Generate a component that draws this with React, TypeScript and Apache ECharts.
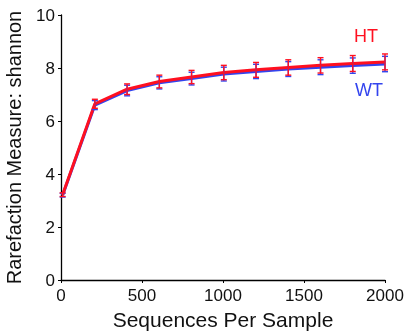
import React, { useEffect, useRef } from "react";
import * as echarts from "echarts";

const depths = [10, 209, 408, 607, 806, 1005, 1204, 1403, 1602, 1801, 2000];
const htMean = [3.22, 6.65, 7.2, 7.49, 7.66, 7.83, 7.93, 8.02, 8.1, 8.17, 8.23];
const htErr = [0.07, 0.17, 0.2, 0.24, 0.25, 0.27, 0.28, 0.29, 0.29, 0.3, 0.3];
const wtMean = [3.2, 6.6, 7.15, 7.44, 7.6, 7.77, 7.87, 7.96, 8.03, 8.09, 8.15];
const wtErr = [0.07, 0.17, 0.2, 0.23, 0.24, 0.26, 0.27, 0.28, 0.28, 0.29, 0.29];
const xTicks = [0, 500, 1000, 1500, 2000];
const yTicks = [0, 2, 4, 6, 8, 10];

const RED = "#ff1020";
const BLUE = "#3344ee";

function errSeries(name: string, mean: number[], err: number[], color: string) {
  return {
    type: "custom",
    name,
    z: name === "HT" ? 4 : 3,
    data: depths.map((d, i) => [d, mean[i] - err[i], mean[i] + err[i]]),
    renderItem: (_p: any, api: any) => {
      const x = api.value(0);
      const lo = api.coord([x, api.value(1)]);
      const hi = api.coord([x, api.value(2)]);
      const w = 3;
      const style = { stroke: color, lineWidth: 1.4 };
      return {
        type: "group",
        children: [
          { type: "line", shape: { x1: lo[0], y1: lo[1], x2: hi[0], y2: hi[1] }, style },
          { type: "line", shape: { x1: lo[0] - w, y1: lo[1], x2: lo[0] + w, y2: lo[1] }, style },
          { type: "line", shape: { x1: hi[0] - w, y1: hi[1], x2: hi[0] + w, y2: hi[1] }, style },
        ],
      };
    },
  };
}

export default function App() {
  const ref = useRef<HTMLDivElement>(null);
  useEffect(() => {
    if (!ref.current) return;
    const chart = echarts.init(ref.current, null, { renderer: "svg" });
    const font = "'Liberation Sans', Arial, sans-serif";
    chart.setOption({
      animation: false,
      textStyle: { fontFamily: font },
      grid: { left: 61, right: 24, top: 15, bottom: 53, containLabel: false, outerBoundsMode: "none" },
      xAxis: {
        type: "value",
        min: 0,
        max: 2000,
        interval: 500,
        splitLine: { show: false },
        axisLine: { onZero: false, lineStyle: { color: "#000", width: 1.3 } },
        axisTick: { show: true, length: 3, lineStyle: { color: "#000" } },
        axisLabel: { color: "#111", fontSize: 17, margin: 7, fontFamily: font, formatter: (v: number) => (xTicks.includes(v) ? String(v) : "") },
        name: "Sequences Per Sample",
        nameLocation: "middle",
        nameGap: 28,
        nameTextStyle: { color: "#111", fontSize: 21, fontFamily: font },
      },
      yAxis: {
        type: "value",
        min: 0,
        max: 10,
        interval: 2,
        splitLine: { show: false },
        axisLine: { show: true, lineStyle: { color: "#000", width: 1.3 } },
        axisTick: { show: true, length: 3, lineStyle: { color: "#000" } },
        axisLabel: { color: "#111", fontSize: 17, margin: 6, fontFamily: font, formatter: (v: number) => (yTicks.includes(v) ? String(v) : "") },
        name: "Rarefaction Measure: shannon",
        nameLocation: "middle",
        nameGap: 37,
        nameTextStyle: { color: "#111", fontSize: 20, fontFamily: font },
      },
      series: [
        {
          type: "line",
          name: "WT",
          data: depths.map((d, i) => [d, wtMean[i]]),
          symbol: "none",
          lineStyle: { color: BLUE, width: 3 },
          z: 1,
        },
        {
          type: "line",
          name: "HT",
          data: depths.map((d, i) => [d, htMean[i]]),
          symbol: "none",
          lineStyle: { color: RED, width: 3 },
          z: 2,
        },
        errSeries("WT", wtMean, wtErr, BLUE),
        errSeries("HT", htMean, htErr, RED),
      ],
      graphic: [
        { type: "text", left: 354, top: 27, style: { text: "HT", fill: RED, fontSize: 18, fontFamily: font } },
        { type: "text", left: 355, top: 81, style: { text: "WT", fill: BLUE, fontSize: 18, fontFamily: font } },
      ],
    });
    return () => chart.dispose();
  }, []);
  return <div ref={ref} style={{ width: 409, height: 333, position: "fixed", left: 0, top: 0 }} />;
}
